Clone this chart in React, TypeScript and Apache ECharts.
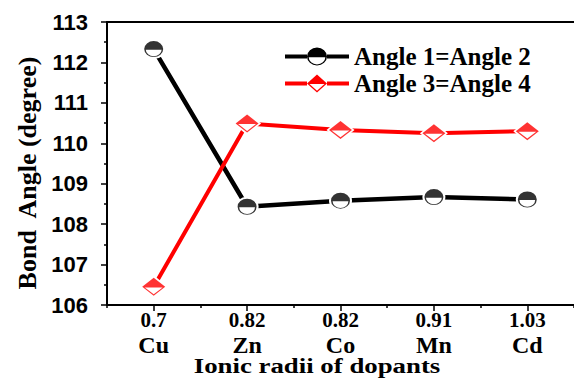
import React, { useEffect, useRef } from "react";
import * as echarts from "echarts";

const dopants = ["Cu", "Zn", "Co", "Mn", "Cd"];
const ionicRadii = ["0.7", "0.82", "0.82", "0.91", "1.03"];
const angle12 = [112.33, 108.43, 108.58, 108.67, 108.61];
const angle34 = [106.45, 110.49, 110.33, 110.25, 110.3];
const seriesNames = ["Angle 1=Angle 2", "Angle 3=Angle 4"];
const yMin = 106;
const yMax = 113;
const xTitle = "Ionic radii of dopants";
const yTitle = "Bond  Angle (degree)";

const fullEllipse = "path://M0 8A9.5 8 0 0 1 19 8A9.5 8 0 0 1 0 8Z";
const halfEllipse = "path://M0 8A9.5 8 0 0 1 19 8A9.5 8 0 0 1 0 8ZM1.6 8.6A7.9 6.6 0 0 0 17.4 8.6Z";
const halfDiamond = "path://M0 9L11.5 0L23 9L11.5 18ZM2.6 9.6L11.5 16.4L20.4 9.6Z";
const legendIcon1 =
  "path://M0 7H22V11H0ZM42 7H64V11H42ZM22 9A10 9 0 0 1 42 9A10 9 0 0 1 22 9ZM23.7 9.7A8.3 7.3 0 0 0 40.3 9.7Z";
const legendIcon2 =
  "path://M0 7H22V11H0ZM42 7H64V11H42ZM22 9L32 0L42 9L32 18ZM24.5 9.6L32 16.2L39.5 9.6Z";

const SERIF = "Liberation Serif";
const SANS = "Liberation Sans";

export default function App() {
  const ref = useRef<HTMLDivElement>(null);

  useEffect(() => {
    document.body.style.margin = "0";
    if (!ref.current) return;
    const chart = echarts.init(ref.current, null, { renderer: "svg" });
    const tickLine = { color: "#000", width: 1.5 };
    chart.setOption({
      animation: false,
      backgroundColor: "#fff",
      grid: { left: 107, top: 22, width: 480, height: 283, containLabel: false },
      legend: {
        orient: "vertical",
        left: 285,
        top: 44,
        padding: 0,
        itemGap: 2,
        itemWidth: 64,
        itemHeight: 18,
        selectedMode: false,
        textStyle: { fontFamily: SERIF, fontWeight: "bold", fontSize: 25, lineHeight: 24, color: "#000" },
        data: [
          { name: seriesNames[0], icon: legendIcon1, itemStyle: { color: "#000", borderWidth: 0 } },
          { name: seriesNames[1], icon: legendIcon2, itemStyle: { color: "#ff0000", borderWidth: 0 } },
        ],
      },
      xAxis: [
        {
          type: "category",
          data: dopants,
          position: "bottom",
          boundaryGap: true,
          axisLine: { show: true, lineStyle: { color: "#000", width: 2 } },
          axisTick: { show: true, alignWithLabel: true, length: 6, lineStyle: tickLine },
          splitLine: { show: false },
          axisLabel: {
            margin: 2,
            color: "#000",
            interval: 0,
            formatter: (value: string, index: number) => `{a|${ionicRadii[index]}}\n{b|${value}}`,
            rich: {
              a: { fontFamily: SERIF, fontWeight: "bold", fontSize: 21, lineHeight: 25, color: "#000" },
              b: { fontFamily: SERIF, fontWeight: "bold", fontSize: 24, lineHeight: 25, color: "#000" },
            },
          },
        },
        {
          type: "category",
          data: dopants,
          position: "bottom",
          boundaryGap: true,
          axisLine: { show: false },
          axisTick: { show: true, length: 3, lineStyle: tickLine },
          axisLabel: { show: false },
          splitLine: { show: false },
        },
        {
          type: "category",
          data: dopants,
          position: "top",
          boundaryGap: true,
          axisLine: { show: true, lineStyle: { color: "#000", width: 2 } },
          axisTick: { show: false },
          axisLabel: { show: false },
          splitLine: { show: false },
        },
      ],
      yAxis: {
        type: "value",
        min: yMin,
        max: yMax,
        interval: 1,
        axisLine: { show: true, lineStyle: { color: "#000", width: 2 } },
        axisTick: { show: true, length: 6, lineStyle: tickLine },
        minorTick: { show: true, splitNumber: 2, length: 3, lineStyle: tickLine },
        splitLine: { show: false },
        axisLabel: { fontFamily: SANS, fontWeight: "bold", fontSize: 22, color: "#000", margin: 19 },
      },
      series: [
        {
          name: seriesNames[0],
          type: "line",
          data: angle12,
          xAxisIndex: 0,
          z: 2,
          symbol: fullEllipse,
          symbolSize: [23, 20],
          itemStyle: { color: "#fff" },
          lineStyle: { color: "#000", width: 4.5 },
        },
        {
          name: seriesNames[0] + " marker",
          type: "scatter",
          data: angle12,
          xAxisIndex: 0,
          z: 3,
          silent: true,
          symbol: halfEllipse,
          symbolSize: [19, 16],
          itemStyle: { color: "#000" },
        },
        {
          name: seriesNames[1],
          type: "line",
          data: angle34,
          xAxisIndex: 0,
          z: 4,
          symbol: "diamond",
          symbolSize: [28, 23],
          itemStyle: { color: "#fff" },
          lineStyle: { color: "#ff0000", width: 4 },
        },
        {
          name: seriesNames[1] + " marker",
          type: "scatter",
          data: angle34,
          xAxisIndex: 0,
          z: 5,
          silent: true,
          symbol: halfDiamond,
          symbolSize: [23, 18],
          itemStyle: { color: "#ff0000" },
        },
      ],
      graphic: [
        {
          type: "text",
          x: 27,
          y: 173,
          rotation: Math.PI / 2,
          style: {
            text: yTitle,
            fontFamily: SERIF,
            fontWeight: "bold",
            fontSize: 26,
            fill: "#000",
            align: "center",
            verticalAlign: "middle",
          },
        },
        {
          type: "text",
          x: 317,
          y: 365,
          scaleX: 1.22,
          style: {
            text: xTitle,
            fontFamily: SERIF,
            fontWeight: "bold",
            fontSize: 22,
            fill: "#000",
            align: "center",
            verticalAlign: "middle",
          },
        },
      ],
    });
    return () => chart.dispose();
  }, []);

  return <div ref={ref} style={{ width: 574, height: 378 }} />;
}
